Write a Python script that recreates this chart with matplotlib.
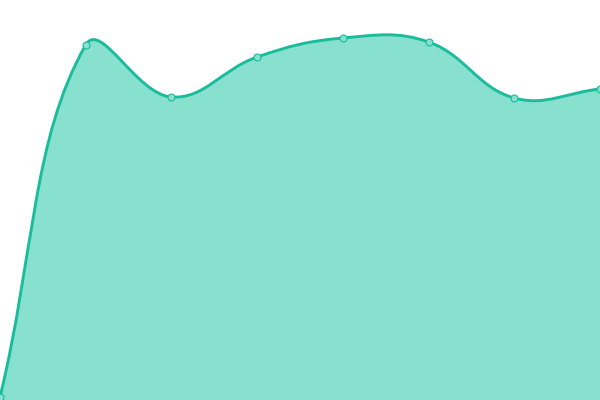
import matplotlib
matplotlib.use("Agg")
import matplotlib.pyplot as plt
from matplotlib.path import Path
from matplotlib.patches import PathPatch
import numpy as np

# values (y: 0 at bottom edge)
xs = [0, 1, 2, 3, 4, 5, 6, 7]
values = [3, 355, 303, 343, 362, 358, 302, 311]

line_color = "#1abc9c"
fill_color = "#88e0cf"

fig = plt.figure(figsize=(6, 4), dpi=100)
ax = fig.add_axes([0, 0, 1, 1])
ax.set_xlim(0, 7)
ax.set_ylim(0, 400)
ax.axis("off")

# work in pixel space for the tension spline (Chart.js style), then back to data
pts = ax.transData.transform(np.column_stack([xs, values]))
tension = 0.4
n = len(pts)
cp_prev, cp_next = [], []
for i in range(n):
    prev = pts[i - 1] if i > 0 else pts[i]
    nxt = pts[i + 1] if i < n - 1 else pts[i]
    cur = pts[i]
    d01 = np.hypot(*(cur - prev))
    d12 = np.hypot(*(nxt - cur))
    tot = d01 + d12 if d01 + d12 else 1
    fa = tension * d01 / tot
    fb = tension * d12 / tot
    cp_prev.append(cur - fa * (nxt - prev))
    cp_next.append(cur + fb * (nxt - prev))

verts = [pts[0]]
codes = [Path.MOVETO]
for i in range(n - 1):
    verts += [cp_next[i], cp_prev[i + 1], pts[i + 1]]
    codes += [Path.CURVE4] * 3
inv = ax.transData.inverted()
curve = inv.transform(np.array(verts))

line_path = Path(curve, codes)
base = ax.transData.transform([[xs[-1], 0], [xs[0], 0]])
fill_verts = np.vstack([curve, inv.transform(base), curve[:1]])
fill_codes = codes + [Path.LINETO, Path.LINETO, Path.CLOSEPOLY]
ax.add_patch(PathPatch(Path(fill_verts, fill_codes), facecolor=fill_color,
                       edgecolor="none", zorder=1))
ax.add_patch(PathPatch(line_path, facecolor="none", edgecolor=line_color,
                       linewidth=2.1, zorder=2, clip_on=False))
ax.plot(xs, values, "o", markersize=5, markerfacecolor=fill_color,
        markeredgecolor=line_color, markeredgewidth=0.8, zorder=3, clip_on=False)

fig.savefig("out.png", dpi=100)
